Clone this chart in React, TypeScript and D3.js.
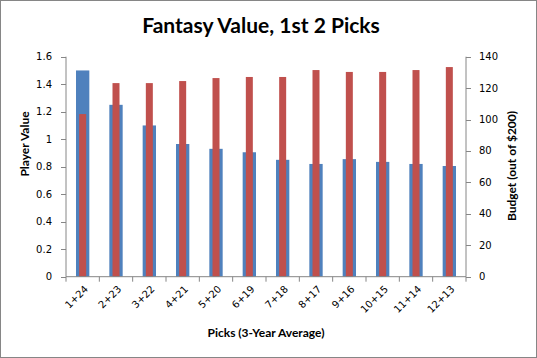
import React from "react";
import * as d3 from "d3";

const categories = ["1+24","2+23","3+22","4+21","5+20","6+19","7+18","8+17","9+16","10+15","11+14","12+13"];
const playerValue = [1.5, 1.25, 1.1, 0.965, 0.93, 0.905, 0.85, 0.82, 0.855, 0.835, 0.82, 0.805];
const budget = [103.5, 123.2, 123.2, 124.5, 126.4, 127.1, 127.1, 131.5, 130.3, 130.3, 131.5, 133.4];
const leftTicks = [0, 0.2, 0.4, 0.6, 0.8, 1, 1.2, 1.4, 1.6];
const rightTicks = [0, 20, 40, 60, 80, 100, 120, 140];

const W = 537, H = 358;
const L = 66, R = 466, T = 56.7, B = 276.7;
const axisColor = "#868686";

export default function App() {
  const x = d3.scaleBand<string>().domain(categories).range([L, R]).paddingInner(0).paddingOuter(0);
  const yL = d3.scaleLinear().domain([0, 1.6]).range([B, T]);
  const yR = d3.scaleLinear().domain([0, 140]).range([B, T]);
  const bw = x.bandwidth();
  const blueW = bw * 0.4;
  const redW = bw * 0.21;
  const tickFont = "'DejaVu Sans', Verdana, sans-serif";
  const titleFont = "Lato, 'Open Sans', sans-serif";
  return (
    <svg width={W} height={H} style={{ position: "absolute", left: 0, top: 0 }}>
      <rect x={0.5} y={0.5} width={W - 1} height={H - 1} fill="#fff" stroke={axisColor} />
      <text x={261} y={33} textAnchor="middle" fontFamily={titleFont} fontSize={21} fontWeight="bold" fill="#000">Fantasy Value, 1st 2 Picks</text>
      {playerValue.map((v, i) => {
        const cx = x(categories[i])! + bw / 2;
        return <rect key={"b" + i} x={cx - blueW / 2} y={yL(v)} width={blueW} height={B - yL(v)} fill="#4F81BD" />;
      })}
      {budget.map((v, i) => {
        const cx = x(categories[i])! + bw / 2;
        return <rect key={"r" + i} x={cx - redW / 2} y={yR(v)} width={redW} height={B - yR(v)} fill="#C0504D" />;
      })}
      {/* left axis */}
      <line x1={L} x2={L} y1={T} y2={B} stroke={axisColor} />
      {leftTicks.map((t) => (
        <g key={"lt" + t}>
          <line x1={L - 5} x2={L} y1={Math.round(yL(t)) + 0.5} y2={Math.round(yL(t)) + 0.5} stroke={axisColor} />
          <text x={L - 14} y={yL(t) + 3.5} textAnchor="end" fontFamily={tickFont} fontSize={10} fill="#000">{String(t)}</text>
        </g>
      ))}
      {/* right axis */}
      <line x1={R} x2={R} y1={T} y2={B} stroke={axisColor} />
      {rightTicks.map((t) => (
        <g key={"rt" + t}>
          <line x1={R} x2={R + 5} y1={Math.round(yR(t)) + 0.5} y2={Math.round(yR(t)) + 0.5} stroke={axisColor} />
          <text x={R + 13} y={yR(t) + 3.5} textAnchor="start" fontFamily={tickFont} fontSize={10} fill="#000">{String(t)}</text>
        </g>
      ))}
      {/* bottom axis */}
      <line x1={L} x2={R} y1={B} y2={B} stroke={axisColor} />
      {categories.concat([""]).map((c, i) => {
        const xx = L + i * bw;
        return <line key={"xt" + i} x1={xx} x2={xx} y1={B} y2={B + 5} stroke={axisColor} />;
      })}
      {categories.map((c) => {
        const cx = x(c)! + bw / 2 + 6;
        const cy = B + 13;
        return (
          <text key={"xl" + c} x={cx} y={cy} textAnchor="end" fontFamily={tickFont} fontSize={10} fill="#000"
            transform={`rotate(-45 ${cx} ${cy})`}>{c}</text>
        );
      })}
      <text x={266} y={337} textAnchor="middle" fontFamily={titleFont} fontSize={12} fontWeight="bold" fill="#000">Picks  (3-Year Average)</text>
      <text transform={`translate(29 144) rotate(-90)`} textAnchor="middle" fontFamily={titleFont} fontSize={12} fontWeight="bold" fill="#000">Player Value</text>
      <text transform={`translate(516 166) rotate(-90)`} textAnchor="middle" fontFamily={titleFont} fontSize={12} fontWeight="bold" fill="#000">Budget (out of $200)</text>
    </svg>
  );
}
